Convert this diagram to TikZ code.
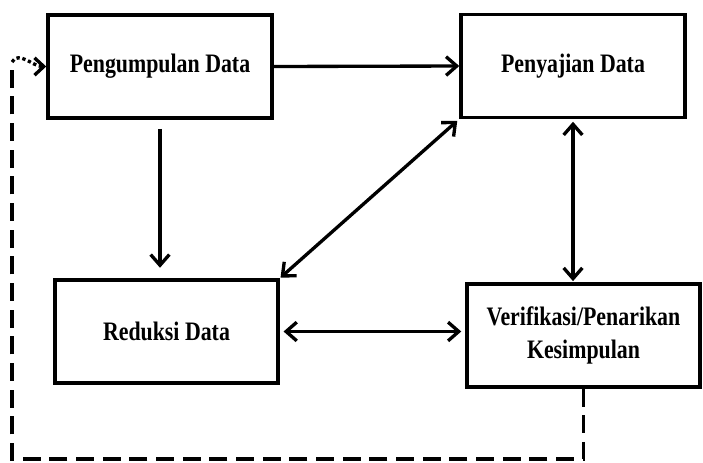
\documentclass[tikz,border=0pt]{standalone}
\usepackage{fontspec}
\setmainfont{Liberation Serif}[FakeStretch=0.82]
\usetikzlibrary{arrows.meta}

\begin{document}
\begin{tikzpicture}[x=0.75pt, y=-0.75pt,
    box/.style={draw, line width=2.6pt, minimum height=77pt,
      align=center, font=\bfseries\fontsize{20}{25}\selectfont},
    flow/.style={line width=2.5pt, -{Straight Barb[length=8pt,width=14pt]}},
    both/.style={line width=2.5pt, {Straight Barb[length=8pt,width=14pt]}-{Straight Barb[length=8pt,width=14pt]}},
    loop/.style={line width=2.5pt, dash pattern=on 13.5pt off 6.5pt}]
  \useasboundingbox (0,0) rectangle (703,462);
  % the four stages
  \node[box, minimum width=168pt]   (peng)   at (160,66.5)  {Pengumpulan Data};
  \node[box, minimum width=168pt]   (sajian) at (573,66)    {Penyajian Data};
  \node[box, minimum width=167pt]   (reduksi) at (166.5,331.5) {Reduksi Data};
  \node[box, minimum width=174.75pt] (verif)  at (583.5,335.5) {Verifikasi/Penarikan\\Kesimpulan};
  % connectors
  \draw[flow] (peng.east) -- (sajian.west);
  \draw[flow, shorten <=7pt, shorten >=8pt] (peng.south) -- (peng.south |- reduksi.north);
  \draw[both, shorten <=2pt, shorten >=1pt] (sajian.south west) -- (reduksi.north east);
  \draw[both, shorten <=2pt, shorten >=1pt] (sajian.south -| 573,0) -- (573,0 |- verif.north);
  \draw[both, shorten <=3pt, shorten >=3pt] (reduksi.east) -- (reduksi.east -| verif.west);
  % feedback loop
  \coordinate (loopBL) at (12,459);
  \coordinate (loopTL) at (12,62);
  \draw[loop] (verif.south) |- (loopBL) -- (loopTL);
  \draw[line width=2.5pt, dotted, -{Straight Barb[length=7pt,width=13pt]}]
    (loopTL) to[out=60, in=180] (peng.west);
\end{tikzpicture}
\end{document}
